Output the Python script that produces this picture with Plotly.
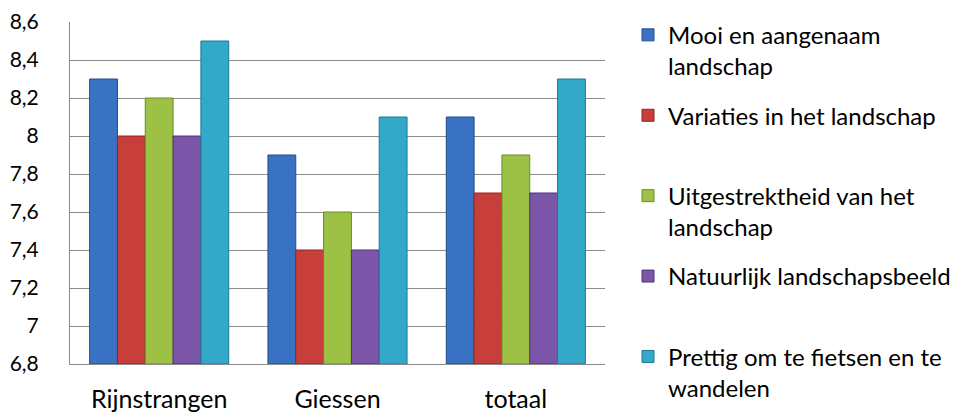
import plotly.graph_objects as go

categories = ["Rijnstrangen", "Giessen", "totaal"]
series_names = [
    "Mooi en aangenaam<br>landschap",
    "Variaties in het landschap<br> ",
    "Uitgestrektheid van het<br>landschap",
    "Natuurlijk landschapsbeeld<br> ",
    "Prettig om te fietsen en te<br>wandelen",
]
mooi = [8.3, 7.9, 8.1]
variaties = [8.0, 7.4, 7.7]
uitgestrekt = [8.2, 7.6, 7.9]
natuurlijk = [8.0, 7.4, 7.7]
prettig = [8.5, 8.1, 8.3]
series_values = [mooi, variaties, uitgestrekt, natuurlijk, prettig]

y_min, y_max = 6.8, 8.6
y_tickvals = [6.8, 7.0, 7.2, 7.4, 7.6, 7.8, 8.0, 8.2, 8.4, 8.6]
y_ticktext = ["6,8", "7", "7,2", "7,4", "7,6", "7,8", "8", "8,2", "8,4", "8,6"]

colors = ["#3A72C3", "#C73E3A", "#9CC144", "#7A55A8", "#32A9C9"]
edges = ["#234C8C", "#8E2522", "#6A8B27", "#4E3478", "#1C7893"]

font_family = "Lato, 'Open Sans', sans-serif"

fig = go.Figure()
for i, (name, vals, c, e) in enumerate(zip(series_names, series_values, colors, edges)):
    fig.add_trace(go.Bar(
        x=categories, y=[v - y_min for v in vals], base=y_min, name=name,
        marker=dict(color=c, line=dict(color=e, width=1)),
        legendgroup=f"g{i}",
    ))

fig.update_layout(
    width=968, height=414,
    margin=dict(l=70, r=360, t=22, b=50),
    paper_bgcolor="white", plot_bgcolor="white",
    barmode="group", bargap=0.22, bargroupgap=0,
    font=dict(family=font_family, size=24, color="#000000"),
    showlegend=True,
    legend=dict(
        x=1.043, y=1.027, xanchor="left", yanchor="top",
        valign="top", traceorder="grouped", tracegroupgap=15,
        font=dict(size=24, family=font_family),
        itemwidth=30, maxheight=414,
    ),
)
fig.update_yaxes(
    range=[y_min, y_max], tickvals=y_tickvals, ticktext=y_ticktext,
    showgrid=True, gridcolor="#8C8C8C", gridwidth=1,
    showline=True, linecolor="#8C8C8C", linewidth=1,
    zeroline=False, ticks="", ticklabelstandoff=26,
    tickfont=dict(size=21), automargin=False,
)
fig.update_xaxes(
    showline=True, linecolor="#8C8C8C", linewidth=1,
    ticks="", ticklabelstandoff=13, tickfont=dict(size=25),
    automargin=False,
)
fig.write_html(
    "out.html",
    config={"displayModeBar": False},
    post_script="document.body.style.margin='0';document.body.style.overflow='hidden';",
)
